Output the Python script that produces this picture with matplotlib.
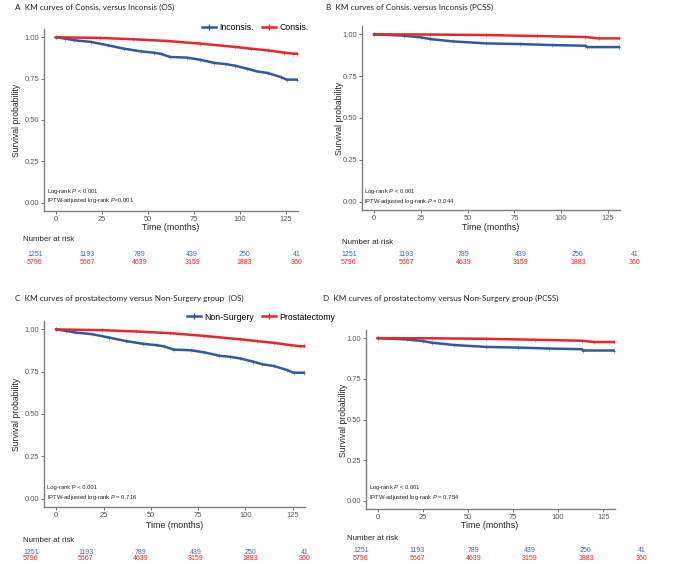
import matplotlib
matplotlib.use("Agg")
import matplotlib.pyplot as plt
from matplotlib.lines import Line2D

plt.rcParams['font.family'] = ['Liberation Sans', 'DejaVu Sans']
plt.rcParams['mathtext.fontset'] = 'custom'
plt.rcParams['mathtext.rm'] = 'Liberation Sans'
plt.rcParams['mathtext.it'] = 'Liberation Sans:italic'

W, H = 674, 564
BLUE = '#2d5a9f'
RED = '#e8262a'
BLUE_TXT = '#3a6cb0'

# KM curves (months, survival)
os_t_blue = [0, 5, 10, 19, 28, 37, 46, 53, 57, 62, 71, 78, 86, 92, 97, 104, 109, 115, 122, 125.5, 131]
os_s_blue = [1.0, 0.992, 0.982, 0.972, 0.952, 0.931, 0.915, 0.907, 0.9, 0.881, 0.877, 0.865, 0.845,
             0.838, 0.829, 0.81, 0.794, 0.784, 0.76, 0.744, 0.744]
os_t_red = [0, 24, 42, 60, 78, 97, 106, 115, 124, 129, 131]
os_s_red = [1.0, 0.996, 0.988, 0.978, 0.962, 0.942, 0.931, 0.921, 0.907, 0.901, 0.901]

pc_t_blue = [0, 16, 25, 30, 42, 60, 78, 95, 113, 114, 131]
pc_s_blue = [1.0, 0.992, 0.982, 0.972, 0.958, 0.946, 0.942, 0.936, 0.932, 0.924, 0.924]
pc_t_red = [0, 30, 60, 87, 113, 120, 131]
pc_s_red = [1.0, 0.999, 0.996, 0.99, 0.984, 0.976, 0.976]

risk_times = [0, 25, 50, 75, 100, 125]
risk_blue = [1251, 1193, 789, 439, 250, 41]
risk_red = [5796, 5667, 4639, 3159, 1883, 360]

titles = ['A  KM curves of Consis. versus Inconsis (OS)',
          'B  KM curves of Consis. versus Inconsis (PCSS)',
          'C  KM curves of prostatectomy versus Non-Surgery group  (OS)',
          'D  KM curves of prostatectomy versus Non-Surgery group (PCSS)']
ptext1 = [r'Log-rank $\it{P}$ < 0.001', r'Log-rank $\it{P}$ < 0.001',
          'Log-rank P < 0.001', r'Log-rank $\it{P}$ < 0.001']
ptext2 = [r'IPTW-adjusted log-rank $\it{P}$<0.001', r'IPTW-adjusted log-rank $\it{P}$ = 0.044',
          r'IPTW-adjusted log-rank $\it{P}$ = 0.716', r'IPTW-adjusted log-rank $\it{P}$ = 0.754']
legends = [['Inconsis.', 'Consis.'], None, ['Non-Surgery', 'Prostatectomy'], None]

# pixel layout per panel
panels = [
    dict(box=(44, 29, 298, 211), title=(15, 7), ylab=(17, 120), xlab=(171, 228),
         nar=(23, 240), rx=(35, 52.4), ry=(254, 262), pt=(47, 191, 200), leg=(202, 28)),
    dict(box=(362, 26, 620, 210), title=(326, 7), ylab=(339, 118), xlab=(491, 228),
         nar=(342, 242), rx=(349, 57.2), ry=(255, 262), pt=(364, 191, 201), leg=None),
    dict(box=(44, 321, 305, 507), title=(15, 298), ylab=(17, 414), xlab=(175, 525),
         nar=(23, 540), rx=(31, 54.8), ry=(552, 559), pt=(47, 488, 497), leg=(187, 317)),
    dict(box=(366, 330, 615, 509), title=(323, 298), ylab=(343, 420), xlab=(490, 525),
         nar=(347, 538), rx=(361, 56.2), ry=(550, 558), pt=(369, 487, 497), leg=None),
]

fig = plt.figure(figsize=(W / 100, H / 100), dpi=100)


def fx(x):
    return x / W


def fy(y):
    return 1 - y / H


for i, p in enumerate(panels):
    x0, y0, x1, y1 = p['box']
    ax = fig.add_axes([fx(x0), fy(y1), (x1 - x0) / W, (y1 - y0) / H])
    if i % 2 == 0:
        tb, sb, tr, sr = os_t_blue, os_s_blue, os_t_red, os_s_red
    else:
        tb, sb, tr, sr = pc_t_blue, pc_s_blue, pc_t_red, pc_s_red
    ax.plot(tb, sb, color=BLUE, lw=1.8)
    ax.plot(tr, sr, color=RED, lw=1.8)
    ax.plot(tb, sb, '+', color=BLUE, ms=3, mew=0.6, alpha=0.6)
    ax.plot(tr, sr, '+', color=RED, ms=3, mew=0.6, alpha=0.6)
    ax.set_xlim(-6.5, 131.5)
    ax.set_ylim(-0.05, 1.05)
    ax.set_xticks([0, 25, 50, 75, 100, 125])
    ax.set_yticks([0, 0.25, 0.5, 0.75, 1.0])
    ax.set_yticklabels(['0.00', '0.25', '0.50', '0.75', '1.00'])
    for s in ['top', 'right']:
        ax.spines[s].set_visible(False)
    for s in ['left', 'bottom']:
        ax.spines[s].set_color('#7f7f7f')
        ax.spines[s].set_linewidth(1.0)
    ax.tick_params(labelsize=5.4, colors='#555555', length=2, width=0.6, pad=1.5)
    ax.patch.set_alpha(0)

    fig.text(fx(p['title'][0]), fy(p['title'][1]), titles[i], fontsize=5.9,
             family=['Lato', 'DejaVu Sans'], ha='left', va='center', color='#222222')
    fig.text(fx(p['ylab'][0]), fy(p['ylab'][1]), 'Survival probability', fontsize=6.2,
             rotation=90, ha='center', va='center', color='#222222')
    fig.text(fx(p['xlab'][0]), fy(p['xlab'][1]), 'Time (months)', fontsize=6.4,
             ha='center', va='center', color='#222222')
    fig.text(fx(p['nar'][0]), fy(p['nar'][1]), 'Number at risk', fontsize=5.7,
             ha='left', va='center', color='#222222')
    xr0, dx = p['rx']
    for k in range(len(risk_times)):
        xx = xr0 + dx * risk_times[k] / 25
        fig.text(fx(xx), fy(p['ry'][0]), str(risk_blue[k]), fontsize=5.0,
                 ha='center', va='center', color=BLUE_TXT)
        fig.text(fx(xx), fy(p['ry'][1]), str(risk_red[k]), fontsize=5.0,
                 ha='center', va='center', color=RED)
    fig.text(fx(p['pt'][0]), fy(p['pt'][1]), ptext1[i], fontsize=4.2,
             ha='left', va='center', color='#222222')
    fig.text(fx(p['pt'][0]), fy(p['pt'][2]), ptext2[i], fontsize=4.2,
             ha='left', va='center', color='#222222')

    if legends[i] is not None:
        handles = [Line2D([], [], color=BLUE, lw=1.8, marker='+', ms=4),
                   Line2D([], [], color=RED, lw=1.8, marker='+', ms=4)]
        lx, ly = p['leg']
        fig.legend(handles, legends[i], loc='center left', bbox_to_anchor=(fx(lx), fy(ly)),
                   ncol=2, frameon=False, fontsize=6.3, handlelength=1.6,
                   handletextpad=0.4, columnspacing=0.9, borderpad=0, borderaxespad=0)

fig.savefig('out.png', dpi=100)
